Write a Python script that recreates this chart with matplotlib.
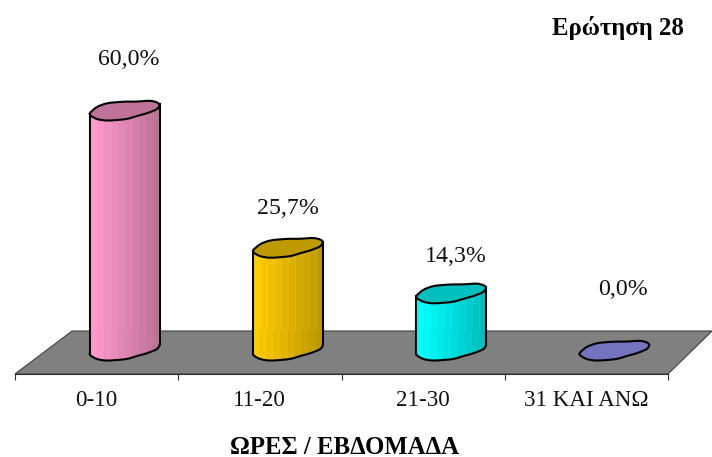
import numpy as np
import matplotlib
matplotlib.use("Agg")
import matplotlib.pyplot as plt

categories = ["0-10", "11-20", "21-30", "31 ΚΑΙ ΑΝΩ"]
values = [60.0, 25.7, 14.3, 0.0]
value_labels = ["60,0%", "25,7%", "14,3%", "0,0%"]
title_text = "Ερώτηση 28"
xlabel_text = "ΩΡΕΣ / ΕΒΔΟΜΑΔΑ"

light_colors = ["#FF99CC", "#FFCC00", "#00FFFF", "#9999FF"]
dark_colors = ["#BF7399", "#BF9900", "#00BFBF", "#7373BF"]

# layout, in data units
DEPTH_X = 0.171
HALF_W = 0.2144
LABEL_DX = [0.195, 0.17, 0.2, 0.225]
LABEL_DY = [12.6, 9.8, 9.0, 15.1]
BLOB = np.array([(-1.0, -0.8), (-0.79, 0.8), (-0.5, 1.75), (-0.02, 2.1),
                 (0.35, 2.1), (0.73, 2.35), (0.93, 1.9), (1.0, 1.25),
                 (0.92, 0.17), (0.63, -0.83), (0.35, -1.5), (0.06, -2.3),
                 (-0.51, -2.7), (-0.79, -2.3), (-0.97, -1.4)])


def chaikin(p, n=1):
    for _ in range(n):
        q = np.roll(p, -1, axis=0)
        p = np.column_stack([0.8 * p + 0.2 * q, 0.2 * p + 0.8 * q]).reshape(-1, 2)
    return p


SMOOTH = chaikin(BLOB)
SMOOTH[:, 0] = 2 * (SMOOTH[:, 0] - SMOOTH[:, 0].min()) / np.ptp(SMOOTH[:, 0]) - 1
left_i = np.argmin(SMOOTH[:, 0])
right_i = np.argmax(SMOOTH[:, 0])
ordered = np.roll(SMOOTH, -right_i, axis=0)
li = (left_i - right_i) % len(SMOOTH)
lower = ordered[:li + 1]
if lower[:, 1].mean() > ordered[li:, 1].mean():
    lower = np.vstack([ordered[li:], ordered[:1]])
lower = lower[np.argsort(lower[:, 0])]  # lower edge, from left to right

plt.rcParams["font.family"] = ["Liberation Serif", "DejaVu Serif"]
fig = plt.figure(figsize=(7.12, 4.57), dpi=100, facecolor="white")
ax = fig.add_axes([15 / 712, 1 - 374 / 457, 653 / 712, 354 / 457])
ax.set_xlim(-0.5, 3.5)
ax.set_ylim(-6, 82.5)
for s in ("left", "right", "top"):
    ax.spines[s].set_visible(False)
ax.spines["bottom"].set_color("#303030")
ax.spines["bottom"].set_linewidth(0.8)
ax.set_yticks([])
ax.set_xticks(np.arange(len(categories) + 1) - 0.5)
ax.set_xticklabels([])
ax.set_xticks(np.arange(len(categories)), categories, minor=True, fontsize=16.6, color="#111111")
ax.tick_params(axis="x", which="major", length=4.3, width=0.8, color="#303030")
ax.tick_params(axis="x", which="minor", length=0, pad=11.5)

# floor
floor_x = [-0.5, 3.5, 3.5 + 0.27, -0.5 + 0.35]
floor_y = [-6, -6, 4.75, 4.75]
ax.fill(floor_x, floor_y, facecolor="#808080", edgecolor="#404040", linewidth=0.8,
        clip_on=False, zorder=1)

N = 10
LW = 1.5
for i, (v, lc, dc) in enumerate(zip(values, light_colors, dark_colors)):
    cx = i + DEPTH_X
    outline_x = cx + SMOOTH[:, 0] * HALF_W
    low_x = cx + lower[:, 0] * HALF_W
    low_y = lower[:, 1]
    if v > 0:
        c0 = np.array(matplotlib.colors.to_rgb(lc))
        c1 = np.array(matplotlib.colors.to_rgb(dc))
        edges = np.linspace(low_x[0], low_x[-1], N + 1)
        for k in range(N):
            t = k / (N - 1)
            g = np.linspace(edges[k], edges[k + 1] + 0.002, 8)
            yy = np.interp(g, low_x, low_y)
            ax.fill_between(g, yy, yy + v, color=c0 + (c1 - c0) * t, linewidth=0,
                            clip_on=False, zorder=3)
        ax.plot(low_x, low_y, color="black", lw=LW, zorder=4, clip_on=False,
                solid_capstyle="round")
        ax.plot([low_x[0], low_x[0]], [low_y[0], low_y[0] + v], color="black", lw=LW,
                zorder=4, clip_on=False)
        ax.plot([low_x[-1], low_x[-1]], [low_y[-1], low_y[-1] + v], color="black", lw=LW,
                zorder=4, clip_on=False)
    ax.fill(outline_x, SMOOTH[:, 1] + v, facecolor=dc, edgecolor="black", linewidth=LW,
            joinstyle="round", clip_on=False, zorder=5)
    ax.text(i + LABEL_DX[i], v + LABEL_DY[i], value_labels[i], ha="center", va="center",
            fontsize=17.2, color="#111111", clip_on=False, zorder=6)

fig.text(684 / 712, 1 - 28 / 457, title_text, ha="right", va="center", fontsize=17.8,
         fontweight="bold", color="black")
fig.text(345 / 712, 1 - 447 / 457, xlabel_text, ha="center", va="center", fontsize=17.8,
         fontweight="bold", color="black")

fig.savefig("out.png", dpi=100)
